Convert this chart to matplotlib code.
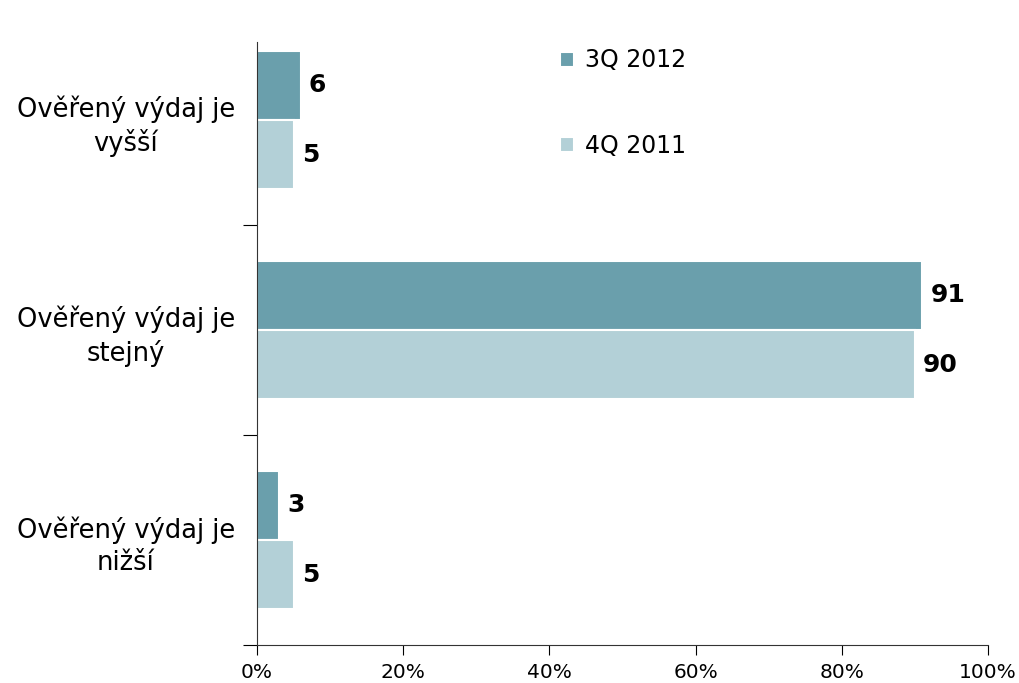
import numpy as np
import matplotlib
matplotlib.use("Agg")
import matplotlib.pyplot as plt
from matplotlib.ticker import FixedLocator, FuncFormatter

# data
categories = ["Ověřený výdaj je\nnižší", "Ověřený výdaj je\nstejný", "Ověřený výdaj je\nvyšší"]
series_names = ["3Q 2012", "4Q 2011"]
q3_2012 = [3, 91, 6]
q4_2011 = [5, 90, 5]
colors = ["#6a9fac", "#b3d0d7"]

fig = plt.figure(figsize=(10.19, 6.83), dpi=100)
ax = fig.add_axes([0.2522, 0.0556, 0.7174, 0.8829])

y = np.arange(len(categories))
h = 0.33
b1 = ax.barh(y + h / 2, q3_2012, height=h, color=colors[0], edgecolor="white", linewidth=1.5, label=series_names[0])
b2 = ax.barh(y - h / 2, q4_2011, height=h, color=colors[1], edgecolor="white", linewidth=1.5, label=series_names[1])

for bars, vals in ((b1, q3_2012), (b2, q4_2011)):
    for r, v in zip(bars, vals):
        ax.text(r.get_width() + 1.1, r.get_y() + r.get_height() / 2, str(v),
                ha="left", va="center", fontsize=18, fontweight="bold")

ax.set_xlim(0, 100)
ax.set_ylim(-0.5, 2.371)
ax.xaxis.set_major_locator(FixedLocator([0, 20, 40, 60, 80, 100]))
ax.xaxis.set_major_formatter(FuncFormatter(lambda v, p: "%d%%" % v))
ax.tick_params(axis="x", labelsize=14.5, length=7, direction="out", pad=6)

# category boundaries as ticks, labels on minor ticks
ax.yaxis.set_major_locator(FixedLocator([-0.5, 0.5, 1.5]))
ax.yaxis.set_major_formatter(FuncFormatter(lambda v, p: ""))
ax.yaxis.set_minor_locator(FixedLocator(y))
ax.set_yticklabels(categories, minor=True)
ax.tick_params(axis="y", which="major", length=10, direction="out")
ax.tick_params(axis="y", which="minor", length=0, labelsize=18.5, pad=16)
for t in ax.get_yticklabels(minor=True):
    t.set_multialignment("center")
    t.set_linespacing(1.3)

for s in ["top", "right"]:
    ax.spines[s].set_visible(False)
ax.spines["left"].set_color("#333333")
ax.spines["bottom"].set_color("#333333")

ax.legend(loc="upper left", bbox_to_anchor=(0.402, 1.005), frameon=False, fontsize=17,
          handlelength=0.6, handleheight=0.6, handletextpad=0.45, labelspacing=2.6,
          borderaxespad=0.0)

fig.savefig("out.png", dpi=100)
